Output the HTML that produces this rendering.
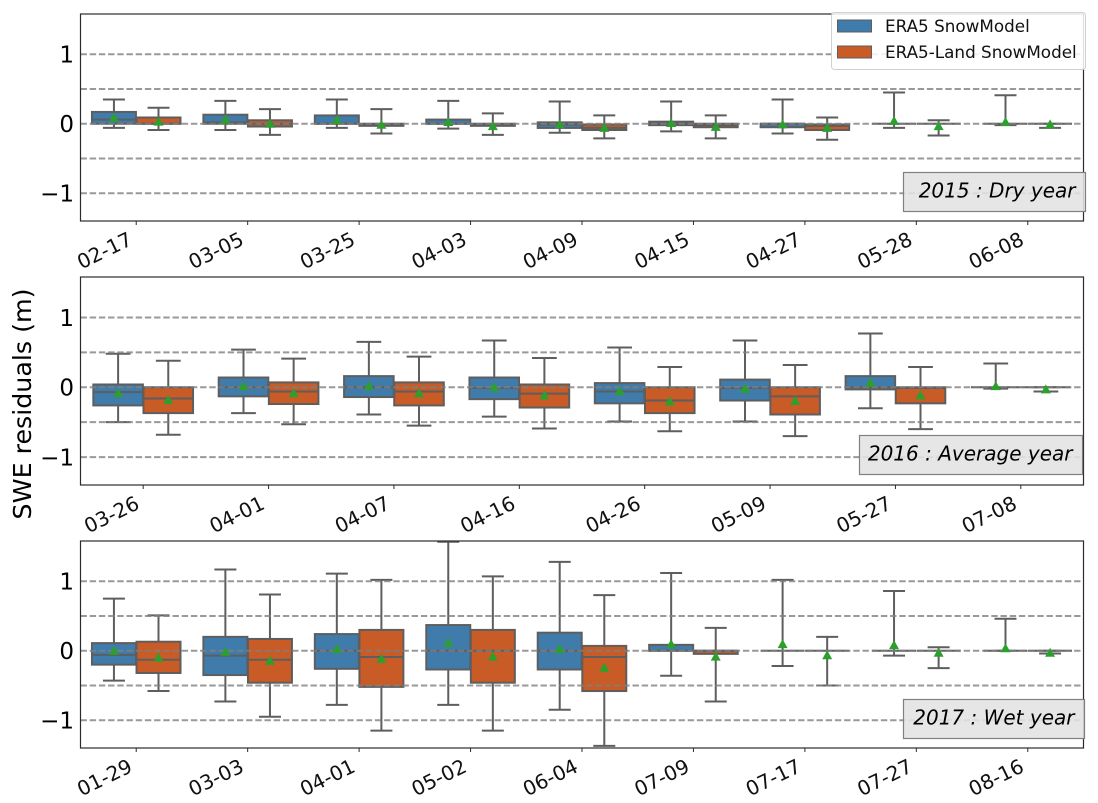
<!DOCTYPE html>
<html lang="en">
<head>
<meta charset="utf-8">
<title>SWE residuals</title>
<style>
html,body{margin:0;padding:0;background:#fff;}
svg{display:block;font-family:"DejaVu Sans","Liberation Sans",sans-serif;}
</style>
</head>
<body>
<svg id="chart" xmlns="http://www.w3.org/2000/svg" width="1098" height="803" viewBox="0 0 1098 803">
<rect x="0" y="0" width="1098" height="803" fill="#ffffff"/>
<text x="0" y="0" transform="translate(31,404) rotate(-90)" text-anchor="middle" font-size="25.3" fill="#000">SWE residuals (m)</text>
</svg>
<script>
// Categories
const dryDates = ['02-17','03-05','03-25','04-03','04-09','04-15','04-27','05-28','06-08'];
const avgDates = ['03-26','04-01','04-07','04-16','04-26','05-09','05-27','07-08'];
const wetDates = ['01-29','03-03','04-01','05-02','06-04','07-09','07-17','07-27','08-16'];
const yTickValues = [-1,0,1];
const yTickLabels = ['\u22121','0','1'];
const refLines = [-1,-0.5,0,0.5,1];
const seriesNames = ['ERA5 SnowModel','ERA5-Land SnowModel'];

// 2015 ERA5
const dryBlueHi  = [0.35,0.33,0.35,0.33,0.32,0.32,0.35,0.45,0.41];
const dryBlueQ3  = [0.17,0.13,0.12,0.06,0.02,0.03,0.00,0.00,0.00];
const dryBlueMed = [0.06,0.02,0.00,0.00,-0.01,0.00,0.00,0.00,0.00];
const dryBlueQ1  = [0.00,0.00,0.00,0.00,-0.06,-0.02,-0.05,0.00,0.00];
const dryBlueLo  = [-0.06,-0.09,-0.06,-0.07,-0.13,-0.11,-0.14,-0.06,-0.02];
const dryBlueMean= [0.09,0.065,0.06,0.03,-0.005,0.015,-0.005,0.045,0.03];
// 2015 ERA5-Land
const dryOrangeHi  = [0.23,0.21,0.21,0.15,0.12,0.12,0.09,0.05,0.00];
const dryOrangeQ3  = [0.09,0.05,0.00,0.00,-0.01,0.00,-0.01,0.00,0.00];
const dryOrangeMed = [0.00,0.00,-0.01,-0.01,-0.06,-0.02,-0.03,0.00,0.00];
const dryOrangeQ1  = [0.00,-0.04,-0.03,-0.03,-0.09,-0.05,-0.09,0.00,0.00];
const dryOrangeLo  = [-0.09,-0.16,-0.14,-0.16,-0.21,-0.21,-0.23,-0.17,-0.06];
const dryOrangeMean= [0.035,0.005,-0.01,-0.03,-0.055,-0.04,-0.055,-0.03,-0.005];

// 2016 ERA5
const avgBlueHi  = [0.48,0.54,0.65,0.67,0.57,0.67,0.77,0.34];
const avgBlueQ3  = [0.04,0.14,0.16,0.14,0.06,0.11,0.16,0.00];
const avgBlueMed = [-0.07,0.00,0.00,-0.01,-0.06,-0.01,0.00,0.00];
const avgBlueQ1  = [-0.26,-0.13,-0.14,-0.17,-0.23,-0.19,-0.03,0.00];
const avgBlueLo  = [-0.50,-0.37,-0.39,-0.42,-0.49,-0.49,-0.30,-0.02];
const avgBlueMean= [-0.08,0.02,0.02,0.005,-0.05,-0.015,0.07,0.02];
// 2016 ERA5-Land
const avgOrangeHi  = [0.38,0.41,0.44,0.42,0.29,0.32,0.29,0.00];
const avgOrangeQ3  = [0.00,0.07,0.07,0.04,0.00,0.00,0.00,0.00];
const avgOrangeMed = [-0.16,-0.06,-0.06,-0.09,-0.19,-0.13,-0.01,0.00];
const avgOrangeQ1  = [-0.37,-0.24,-0.26,-0.29,-0.37,-0.39,-0.23,0.00];
const avgOrangeLo  = [-0.68,-0.53,-0.55,-0.59,-0.63,-0.70,-0.60,-0.06];
const avgOrangeMean= [-0.18,-0.08,-0.08,-0.11,-0.20,-0.19,-0.11,-0.025];

// 2017 ERA5
const wetBlueHi  = [0.75,1.17,1.11,1.57,1.28,1.12,1.02,0.86,0.46];
const wetBlueQ3  = [0.11,0.20,0.24,0.37,0.26,0.085,0.00,0.00,0.00];
const wetBlueMed = [-0.06,-0.07,0.00,0.00,0.00,0.00,0.00,0.00,0.00];
const wetBlueQ1  = [-0.20,-0.35,-0.26,-0.27,-0.27,0.00,0.00,0.00,0.00];
const wetBlueLo  = [-0.43,-0.73,-0.78,-0.78,-0.85,-0.36,-0.22,-0.07,0.00];
const wetBlueMean= [0.005,-0.01,0.03,0.12,0.03,0.10,0.10,0.085,0.04];
// 2017 ERA5-Land
const wetOrangeHi  = [0.51,0.81,1.02,1.07,0.80,0.33,0.20,0.05,0.00];
const wetOrangeQ3  = [0.13,0.17,0.30,0.30,0.07,0.00,0.00,0.00,0.00];
const wetOrangeMed = [-0.13,-0.13,-0.09,0.00,-0.09,0.00,0.00,0.00,0.00];
const wetOrangeQ1  = [-0.32,-0.46,-0.52,-0.46,-0.58,-0.045,0.00,0.00,0.00];
const wetOrangeLo  = [-0.58,-0.95,-1.15,-1.15,-1.37,-0.73,-0.50,-0.25,-0.04];
const wetOrangeMean= [-0.095,-0.14,-0.11,-0.08,-0.24,-0.08,-0.06,-0.025,-0.025];

const svg = document.getElementById('chart');
const NS = 'http://www.w3.org/2000/svg';
const plotLeft = 80.5, plotRight = 1083.5;
const domainMax = 1.58, domainMin = -1.4;
const LINE = '#5e5e5e';
const BLUE = '#3f7cac';
const ORANGE = '#c85b26';

function mk(parent, tag, attrs, text) {
  const el = document.createElementNS(NS, tag);
  for (const k in attrs) el.setAttribute(k, attrs[k]);
  if (text !== undefined) el.textContent = text;
  parent.appendChild(el);
  return el;
}
function named(el, name) {
  
  
  return el;
}

function drawSeries(g, key, color, xC, half, y, s, i, date) {
  const cap = half / 2;
  const x0 = xC - half, w = half * 2;
  const box = mk(g, 'g', {});
  named(box, 'boxplot-' + key + '-' + date);
  const lineAttrs = {stroke: LINE, 'stroke-width': 2, fill: 'none'};
  named(mk(box, 'line', Object.assign({x1: xC, x2: xC, y1: y(s.hi[i]), y2: y(s.q3[i])}, lineAttrs)), 'whisker-upper');
  named(mk(box, 'line', Object.assign({x1: xC, x2: xC, y1: y(s.q1[i]), y2: y(s.lo[i])}, lineAttrs)), 'whisker-lower');
  named(mk(box, 'line', Object.assign({x1: xC - cap, x2: xC + cap, y1: y(s.hi[i]), y2: y(s.hi[i])}, lineAttrs)), 'cap-upper');
  named(mk(box, 'line', Object.assign({x1: xC - cap, x2: xC + cap, y1: y(s.lo[i]), y2: y(s.lo[i])}, lineAttrs)), 'cap-lower');
  named(mk(box, 'rect', {x: x0, y: y(s.q3[i]), width: w, height: Math.max(0, y(s.q1[i]) - y(s.q3[i])), fill: color, stroke: LINE, 'stroke-width': 2}), 'box');
  named(mk(box, 'line', Object.assign({x1: x0, x2: x0 + w, y1: y(s.med[i]), y2: y(s.med[i])}, lineAttrs)), 'median');
}
function drawMean(g, xC, y, v) {
  const cy = y(v);
  const m = mk(g, 'polygon', {points: (xC - 5) + ',' + (cy + 4.3) + ' ' + (xC + 5) + ',' + (cy + 4.3) + ' ' + xC + ',' + (cy - 4.7), fill: '#2ca02c'});
  named(m, 'mean-marker');
}

function drawPanel(p) {
  const h = p.bottom - p.top;
  const y = v => p.top + (domainMax - v) / (domainMax - domainMin) * h;
  const step = (plotRight - plotLeft) / p.dates.length;
  const xc = i => plotLeft + step * (i + 0.5);
  const half = step * 0.2 - 0.3;
  const g = mk(svg, 'g', {});
  named(g, 'panel-' + p.id);

  // boxes
  p.dates.forEach((d, i) => {
    drawSeries(g, 'era5', BLUE, xc(i) - step * 0.2, half, y, p.blue, i, d);
    drawSeries(g, 'era5-land', ORANGE, xc(i) + step * 0.2, half, y, p.orange, i, d);
  });
  // reference lines
  refLines.forEach(v => {
    const l = mk(g, 'line', {x1: plotLeft, x2: plotRight, y1: y(v), y2: y(v), stroke: '#808080', 'stroke-opacity': 0.8, 'stroke-width': 2, 'stroke-dasharray': '6.4 2.8'});
    named(l, 'reference-line');
  });
  // means
  p.dates.forEach((d, i) => {
    drawMean(g, xc(i) - step * 0.2, y, p.blue.mean[i]);
    drawMean(g, xc(i) + step * 0.2, y, p.orange.mean[i]);
  });
  // frame
  named(mk(g, 'rect', {x: plotLeft, y: p.top, width: plotRight - plotLeft, height: h, fill: 'none', stroke: '#2b2b2b', 'stroke-width': 1.2}), 'axes-frame');
  // y ticks
  yTickValues.forEach((v, i) => {
    const t = mk(g, 'text', {x: 74, y: y(v) + 8.3, 'text-anchor': 'end', 'font-size': 23, fill: '#000'}, yTickLabels[i]);
    named(t, 'y-tick-label');
  });
  // x ticks
  p.dates.forEach((d, i) => {
    const x = xc(i);
    named(mk(g, 'line', {x1: x, x2: x, y1: p.bottom, y2: p.bottom + 4, stroke: '#2b2b2b', 'stroke-width': 1}), 'x-tick');
    const t = mk(g, 'text', {x: 0, y: 0, 'text-anchor': 'end', 'font-size': 20, fill: '#111', transform: 'translate(' + (x - 2.5) + ',' + (p.bottom + 23) + ') rotate(-26)'}, d);
    named(t, 'x-tick-label');
  });
  // annotation
  named(mk(g, 'rect', {x: p.note.x, y: p.note.y, width: p.note.w, height: 39, fill: '#e2e2e2', 'fill-opacity': 0.88, stroke: '#808080', 'stroke-width': 1.2}), 'year-annotation-box');
  named(mk(g, 'text', {x: p.note.x + p.note.w - 10, y: p.note.y + 25, 'text-anchor': 'end', 'font-size': 20, 'font-style': 'italic', fill: '#000'}, p.note.text), 'year-annotation');
}

const panels = [
  {id: 'dry-2015', top: 14, bottom: 221, dates: dryDates,
   blue: {hi: dryBlueHi, q3: dryBlueQ3, med: dryBlueMed, q1: dryBlueQ1, lo: dryBlueLo, mean: dryBlueMean},
   orange: {hi: dryOrangeHi, q3: dryOrangeQ3, med: dryOrangeMed, q1: dryOrangeQ1, lo: dryOrangeLo, mean: dryOrangeMean},
   note: {x: 903.5, y: 172.5, w: 182, text: '2015 : Dry year'}},
  {id: 'average-2016', top: 277, bottom: 485, dates: avgDates,
   blue: {hi: avgBlueHi, q3: avgBlueQ3, med: avgBlueMed, q1: avgBlueQ1, lo: avgBlueLo, mean: avgBlueMean},
   orange: {hi: avgOrangeHi, q3: avgOrangeQ3, med: avgOrangeMed, q1: avgOrangeQ1, lo: avgOrangeLo, mean: avgOrangeMean},
   note: {x: 859.5, y: 435.5, w: 223, text: '2016 : Average year'}},
  {id: 'wet-2017', top: 541, bottom: 748, dates: wetDates,
   blue: {hi: wetBlueHi, q3: wetBlueQ3, med: wetBlueMed, q1: wetBlueQ1, lo: wetBlueLo, mean: wetBlueMean},
   orange: {hi: wetOrangeHi, q3: wetOrangeQ3, med: wetOrangeMed, q1: wetOrangeQ1, lo: wetOrangeLo, mean: wetOrangeMean},
   note: {x: 903.5, y: 699.5, w: 181, text: '2017 : Wet year'}}
];
panels.forEach(drawPanel);

// legend
const legend = mk(svg, 'g', {});
named(legend, 'legend');
named(mk(legend, 'rect', {x: 831.5, y: 12.5, width: 254, height: 57, rx: 3, fill: '#fff', 'fill-opacity': 0.85, stroke: '#d0d0d0', 'stroke-width': 1}), 'legend-frame');
[BLUE, ORANGE].forEach((c, i) => {
  const yy = 20 + i * 26;
  named(mk(legend, 'rect', {x: 837.5, y: yy, width: 34, height: 12, fill: c, stroke: '#5e5e5e', 'stroke-width': 1}), 'legend-swatch');
  named(mk(legend, 'text', {x: 885, y: yy + 12, 'font-size': 16.8, fill: '#111'}, seriesNames[i]), 'legend-entry');
});
</script>
</body>
</html>
